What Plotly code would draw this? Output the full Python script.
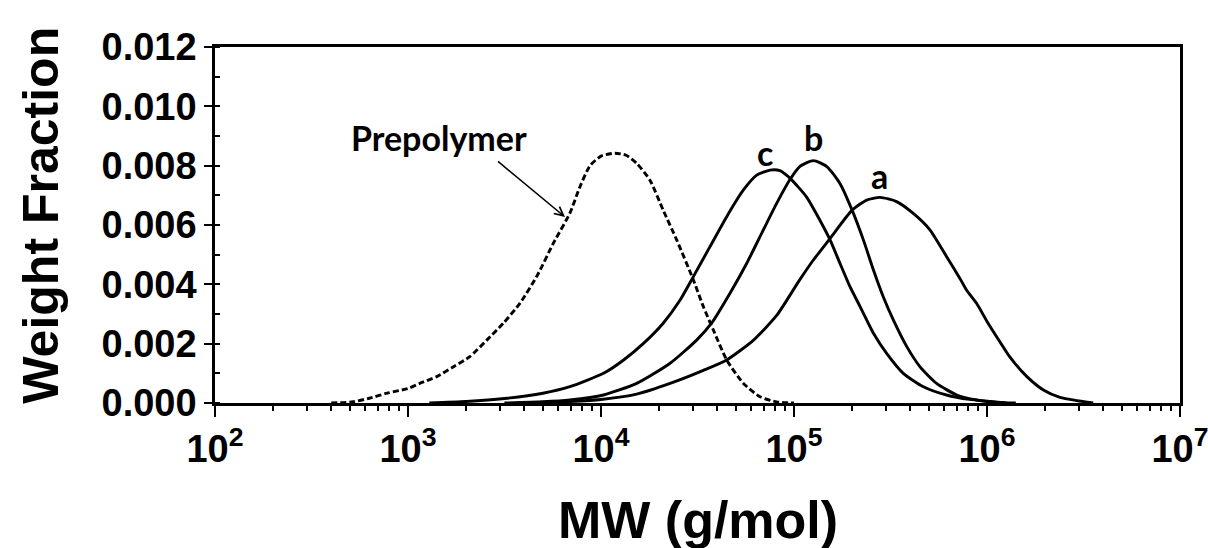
import plotly.graph_objects as go

# ---------------- data ----------------
mw_pre = [400, 520, 630, 780, 1000, 1150, 1410, 1720, 2090, 2560, 3120, 3800, 4650,
          5660, 6900, 7780, 8770, 10000, 11800, 13500, 15300, 17900, 21000, 24700,
          30100, 33900, 38200, 44800, 54700, 66700, 81300, 100000]
wf_pre = [0.0, 0.00004, 0.00016, 0.00033, 0.00049, 0.00066, 0.00089, 0.00122, 0.00156,
          0.00212, 0.00269, 0.00336, 0.00427, 0.00538, 0.00640, 0.00729, 0.00800, 0.00832,
          0.00842, 0.00835, 0.00808, 0.00752, 0.00650, 0.00549, 0.00415, 0.00325, 0.00246,
          0.00145, 0.00066, 0.00021, 0.00004, 0.0]

mw_c = [1290, 2000, 3160, 5000, 6900, 10300, 13100, 16600, 21000, 25700, 30100, 36700,
        44800, 54700, 64100, 75200, 84500, 95500, 116000, 136000, 154000, 173000, 195000,
        220000, 258000, 302000, 368000, 468000, 617000, 813000, 1000000, 1260000]
wf_c = [0.0, 0.00005, 0.00015, 0.00033, 0.00055, 0.00100, 0.00145, 0.00201, 0.00269,
        0.00347, 0.00426, 0.00527, 0.00628, 0.00718, 0.00768, 0.00785, 0.00783, 0.00757,
        0.00695, 0.00617, 0.00549, 0.00471, 0.00392, 0.00325, 0.00235, 0.00167, 0.00100,
        0.00055, 0.00027, 0.00012, 0.00006, 0.0]

mw_b = [3160, 5000, 6900, 10300, 15300, 22800, 31300, 37400, 46600, 56900, 69300, 81300,
        95500, 107000, 126000, 148000, 173000, 200000, 229000, 258000, 290000, 327000,
        384000, 450000, 548000, 697000, 883000, 1120000, 1410000]
wf_b = [0.0, 0.00004, 0.00010, 0.00027, 0.00066, 0.00134, 0.00212, 0.00269, 0.00370,
        0.00471, 0.00583, 0.00673, 0.00754, 0.00797, 0.00817, 0.00797, 0.00740, 0.00650,
        0.00549, 0.00448, 0.00358, 0.00280, 0.00190, 0.00122, 0.00066, 0.00027, 0.00010,
        0.00002, 0.0]

mw_a = [5000, 10000, 15300, 22800, 33900, 44800, 61700, 81300, 107000, 126000, 154000,
        200000, 238000, 279000, 340000, 415000, 507000, 618000, 724000, 783000, 883000,
        1000000, 1170000, 1310000, 1610000, 1960000, 2390000, 2920000, 3550000]
wf_a = [0.0, 0.00012, 0.00030, 0.00066, 0.00110, 0.00145, 0.00212, 0.00295, 0.00415,
        0.00482, 0.00555, 0.00650, 0.00684, 0.00693, 0.00679, 0.00639, 0.00583, 0.00493,
        0.00420, 0.00381, 0.00336, 0.00275, 0.00205, 0.00156, 0.00089, 0.00044, 0.00019,
        0.00008, 0.0]

x_major = [1e2, 1e3, 1e4, 1e5, 1e6, 1e7]
x_labels = ["10<sup>2</sup>", "10<sup>3</sup>", "10<sup>4</sup>", "10<sup>5</sup>",
            "10<sup>6</sup>", "10<sup>7</sup>"]
x_minor = [m * 10 ** k for k in range(2, 7) for m in range(2, 10)]
y_major = [0.000, 0.002, 0.004, 0.006, 0.008, 0.010, 0.012]
y_labels = ["0.000", "0.002", "0.004", "0.006", "0.008", "0.010", "0.012"]

series = [
    ("Prepolymer", mw_pre, wf_pre, "6px,3px"),
    ("c", mw_c, wf_c, "solid"),
    ("b", mw_b, wf_b, "solid"),
    ("a", mw_a, wf_a, "solid"),
]

# ---------------- figure ----------------
ARIAL = "Liberation Sans, Arial, sans-serif"
LABEL = "Lato, Open Sans, sans-serif"
X_RANGE = [2, 7]

fig = go.Figure()
for name, xs, ys, dash in series:
    fig.add_trace(go.Scatter(
        x=xs, y=ys, mode="lines", name=name, showlegend=False,
        line=dict(color="black", width=2.9, dash=dash, shape="spline", smoothing=0.6),
    ))

fig.update_layout(
    width=1208, height=548,
    margin=dict(l=215, r=28, t=47, b=145),
    paper_bgcolor="white", plot_bgcolor="white",
    showlegend=False,
    xaxis=dict(
        type="log", range=X_RANGE, automargin=False,
        tickmode="array", tickvals=x_major, ticktext=x_labels,
        ticklabeloverflow="allow",
        ticks="outside", ticklen=11, tickwidth=2, tickcolor="black",
        showline=True, linewidth=2.5, linecolor="black", mirror=True,
        showgrid=False, zeroline=False,
        tickfont=dict(family=ARIAL, size=38, color="black", weight="bold"),
        minor=dict(ticks="outside", ticklen=5, tickwidth=2, tickcolor="black",
                   tickmode="array", tickvals=x_minor, showgrid=False),
    ),
    xaxis2=dict(
        type="log", range=X_RANGE, overlaying="x", anchor="y", side="bottom",
        tickmode="array", tickvals=x_major, ticks="inside", ticklen=10, tickwidth=2,
        tickcolor="black", showticklabels=False, showline=False, showgrid=False,
        zeroline=False,
    ),
    yaxis=dict(
        range=[0, 0.012], automargin=False,
        tickmode="array", tickvals=y_major, ticktext=y_labels,
        ticks="outside", ticklen=8, tickwidth=2, tickcolor="black",
        showline=True, linewidth=2.5, linecolor="black", mirror=True,
        showgrid=False, zeroline=False,
        tickfont=dict(family=ARIAL, size=38, color="black", weight="bold"),
        minor=dict(ticks="inside", ticklen=5, tickwidth=2, tickcolor="black",
                   dtick=0.001, showgrid=False),
    ),
    yaxis2=dict(
        range=[0, 0.012], overlaying="y", anchor="x", side="left",
        tickmode="array", tickvals=y_major, ticks="inside", ticklen=12, tickwidth=2,
        tickcolor="black", showticklabels=False, showline=False, showgrid=False,
        zeroline=False,
    ),
)

# axis titles (placed explicitly to match the reference position)
fig.add_annotation(text="Weight Fraction", xref="paper", yref="paper", x=-0.18, y=0.527,
                   textangle=-90, showarrow=False, xanchor="center", yanchor="middle",
                   font=dict(family=ARIAL, size=50, color="black", weight="bold"))
fig.add_annotation(text="MW (g/mol)", xref="paper", yref="paper", x=0.5005, y=-0.329,
                   showarrow=False, xanchor="center", yanchor="middle",
                   font=dict(family=ARIAL, size=52, color="black", weight="bold"))

label_font = dict(family=LABEL, size=34, color="black", weight="bold")
fig.add_annotation(text="Prepolymer", xref="paper", yref="paper", x=0.232, y=0.747,
                   showarrow=False, font=label_font, xanchor="center", yanchor="middle")
fig.add_annotation(text=" ", xref="paper", yref="paper", x=0.3627, y=0.5225,
                   showarrow=True, ax=-70, ay=-58, arrowhead=5, arrowsize=1.1,
                   arrowwidth=1.6, arrowcolor="black")
fig.add_annotation(text="c", xref="paper", yref="paper", x=0.570, y=0.705,
                   showarrow=False, font=label_font, xanchor="center", yanchor="middle")
fig.add_annotation(text="b", xref="paper", yref="paper", x=0.620, y=0.747,
                   showarrow=False, font=label_font, xanchor="center", yanchor="middle")
fig.add_annotation(text="a", xref="paper", yref="paper", x=0.689, y=0.638,
                   showarrow=False, font=label_font, xanchor="center", yanchor="middle")

fig.write_html("out.html")
